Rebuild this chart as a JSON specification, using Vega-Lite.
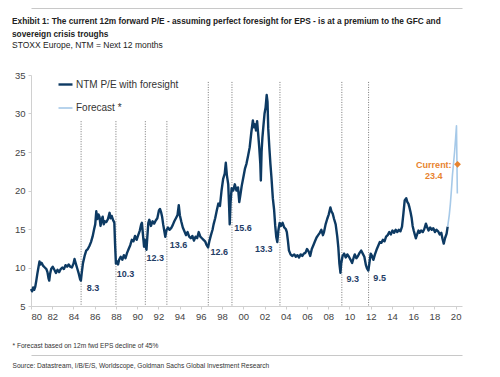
{
  "$schema": "https://vega.github.io/schema/vega-lite/v6.json",
  "width": 431,
  "height": 231,
  "autosize": "none",
  "padding": {"left": 31, "top": 75, "right": 38, "bottom": 71},
  "background": "white",
  "config": {"view": {"stroke": null}, "font": "Liberation Sans", "axis": {"labelOverlap": false}},
  "title": {
    "text": ["Exhibit 1: The current 12m forward P/E - assuming perfect foresight for EPS - is at a premium to the GFC and", "sovereign crisis troughs"],
    "subtitle": "STOXX Europe, NTM = Next 12 months",
    "anchor": "start",
    "frame": "group",
    "dx": -19,
    "offset": -41.5,
    "font": "Liberation Sans",
    "fontSize": 8.3,
    "fontWeight": "bold",
    "color": "#222222",
    "lineHeight": 13,
    "subtitleFont": "Liberation Sans",
    "subtitleFontSize": 8.5,
    "subtitleColor": "#222222",
    "subtitlePadding": 2.5,
    "subtitleLineHeight": 12
  },
  "resolve": {"axis": {"x": "independent", "y": "independent"}},
  "datasets": {
    "pe": [
      {"t":1980.0,"v":7.2,"s":"NTM P/E with foresight"},{"t":1980.1,"v":6.9,"s":"NTM P/E with foresight"},{"t":1980.2,"v":7.4,"s":"NTM P/E with foresight"},{"t":1980.3,"v":7.1,"s":"NTM P/E with foresight"},{"t":1980.4,"v":7.5,"s":"NTM P/E with foresight"},{"t":1980.5,"v":8.3,"s":"NTM P/E with foresight"},{"t":1980.6,"v":9.2,"s":"NTM P/E with foresight"},{"t":1980.7,"v":10.0,"s":"NTM P/E with foresight"},{"t":1980.8,"v":10.8,"s":"NTM P/E with foresight"},{"t":1980.9,"v":10.4,"s":"NTM P/E with foresight"},
      {"t":1981.0,"v":10.6,"s":"NTM P/E with foresight"},{"t":1981.15,"v":10.2,"s":"NTM P/E with foresight"},{"t":1981.3,"v":10.0,"s":"NTM P/E with foresight"},{"t":1981.45,"v":9.8,"s":"NTM P/E with foresight"},{"t":1981.55,"v":9.4,"s":"NTM P/E with foresight"},{"t":1981.65,"v":8.6,"s":"NTM P/E with foresight"},{"t":1981.72,"v":8.3,"s":"NTM P/E with foresight"},{"t":1981.8,"v":9.2,"s":"NTM P/E with foresight"},{"t":1981.9,"v":9.8,"s":"NTM P/E with foresight"},
      {"t":1982.05,"v":10.1,"s":"NTM P/E with foresight"},{"t":1982.2,"v":9.7,"s":"NTM P/E with foresight"},{"t":1982.35,"v":9.3,"s":"NTM P/E with foresight"},{"t":1982.5,"v":9.7,"s":"NTM P/E with foresight"},{"t":1982.65,"v":9.4,"s":"NTM P/E with foresight"},{"t":1982.8,"v":9.8,"s":"NTM P/E with foresight"},{"t":1982.95,"v":10.0,"s":"NTM P/E with foresight"},
      {"t":1983.1,"v":9.8,"s":"NTM P/E with foresight"},{"t":1983.25,"v":10.3,"s":"NTM P/E with foresight"},{"t":1983.4,"v":10.1,"s":"NTM P/E with foresight"},{"t":1983.55,"v":10.4,"s":"NTM P/E with foresight"},{"t":1983.7,"v":10.1,"s":"NTM P/E with foresight"},{"t":1983.85,"v":10.0,"s":"NTM P/E with foresight"},
      {"t":1984.0,"v":10.5,"s":"NTM P/E with foresight"},{"t":1984.1,"v":11.1,"s":"NTM P/E with foresight"},{"t":1984.2,"v":10.6,"s":"NTM P/E with foresight"},{"t":1984.35,"v":9.9,"s":"NTM P/E with foresight"},{"t":1984.5,"v":9.2,"s":"NTM P/E with foresight"},{"t":1984.62,"v":8.5,"s":"NTM P/E with foresight"},{"t":1984.7,"v":8.3,"s":"NTM P/E with foresight"},{"t":1984.78,"v":9.3,"s":"NTM P/E with foresight"},{"t":1984.9,"v":10.6,"s":"NTM P/E with foresight"},
      {"t":1985.05,"v":11.5,"s":"NTM P/E with foresight"},{"t":1985.2,"v":12.2,"s":"NTM P/E with foresight"},{"t":1985.35,"v":12.4,"s":"NTM P/E with foresight"},{"t":1985.5,"v":12.8,"s":"NTM P/E with foresight"},{"t":1985.65,"v":13.3,"s":"NTM P/E with foresight"},{"t":1985.8,"v":14.0,"s":"NTM P/E with foresight"},{"t":1985.95,"v":15.0,"s":"NTM P/E with foresight"},
      {"t":1986.05,"v":15.6,"s":"NTM P/E with foresight"},{"t":1986.15,"v":17.3,"s":"NTM P/E with foresight"},{"t":1986.25,"v":16.3,"s":"NTM P/E with foresight"},{"t":1986.35,"v":16.9,"s":"NTM P/E with foresight"},{"t":1986.45,"v":16.6,"s":"NTM P/E with foresight"},{"t":1986.55,"v":15.4,"s":"NTM P/E with foresight"},{"t":1986.65,"v":16.2,"s":"NTM P/E with foresight"},{"t":1986.75,"v":16.6,"s":"NTM P/E with foresight"},{"t":1986.85,"v":15.6,"s":"NTM P/E with foresight"},{"t":1986.95,"v":16.0,"s":"NTM P/E with foresight"},
      {"t":1987.1,"v":15.9,"s":"NTM P/E with foresight"},{"t":1987.25,"v":16.3,"s":"NTM P/E with foresight"},{"t":1987.4,"v":17.1,"s":"NTM P/E with foresight"},{"t":1987.5,"v":16.4,"s":"NTM P/E with foresight"},{"t":1987.6,"v":16.7,"s":"NTM P/E with foresight"},{"t":1987.75,"v":16.1,"s":"NTM P/E with foresight"},{"t":1987.85,"v":15.8,"s":"NTM P/E with foresight"},{"t":1987.92,"v":13.0,"s":"NTM P/E with foresight"},
      {"t":1988.0,"v":10.5,"s":"NTM P/E with foresight"},{"t":1988.1,"v":10.8,"s":"NTM P/E with foresight"},{"t":1988.2,"v":10.4,"s":"NTM P/E with foresight"},{"t":1988.3,"v":11.0,"s":"NTM P/E with foresight"},{"t":1988.45,"v":11.4,"s":"NTM P/E with foresight"},{"t":1988.6,"v":11.0,"s":"NTM P/E with foresight"},{"t":1988.75,"v":11.6,"s":"NTM P/E with foresight"},{"t":1988.9,"v":11.2,"s":"NTM P/E with foresight"},
      {"t":1989.05,"v":11.9,"s":"NTM P/E with foresight"},{"t":1989.2,"v":12.4,"s":"NTM P/E with foresight"},{"t":1989.35,"v":12.9,"s":"NTM P/E with foresight"},{"t":1989.5,"v":13.6,"s":"NTM P/E with foresight"},{"t":1989.65,"v":13.4,"s":"NTM P/E with foresight"},{"t":1989.8,"v":14.1,"s":"NTM P/E with foresight"},{"t":1989.95,"v":13.6,"s":"NTM P/E with foresight"},
      {"t":1990.1,"v":14.2,"s":"NTM P/E with foresight"},{"t":1990.25,"v":14.8,"s":"NTM P/E with foresight"},{"t":1990.38,"v":15.6,"s":"NTM P/E with foresight"},{"t":1990.45,"v":15.8,"s":"NTM P/E with foresight"},{"t":1990.55,"v":14.2,"s":"NTM P/E with foresight"},{"t":1990.65,"v":12.7,"s":"NTM P/E with foresight"},{"t":1990.72,"v":13.6,"s":"NTM P/E with foresight"},{"t":1990.8,"v":12.8,"s":"NTM P/E with foresight"},{"t":1990.88,"v":12.3,"s":"NTM P/E with foresight"},{"t":1990.95,"v":13.8,"s":"NTM P/E with foresight"},
      {"t":1991.05,"v":15.8,"s":"NTM P/E with foresight"},{"t":1991.15,"v":16.2,"s":"NTM P/E with foresight"},{"t":1991.3,"v":15.4,"s":"NTM P/E with foresight"},{"t":1991.45,"v":16.0,"s":"NTM P/E with foresight"},{"t":1991.6,"v":15.7,"s":"NTM P/E with foresight"},{"t":1991.75,"v":16.1,"s":"NTM P/E with foresight"},{"t":1991.9,"v":16.4,"s":"NTM P/E with foresight"},
      {"t":1992.05,"v":17.4,"s":"NTM P/E with foresight"},{"t":1992.15,"v":17.6,"s":"NTM P/E with foresight"},{"t":1992.25,"v":17.2,"s":"NTM P/E with foresight"},{"t":1992.35,"v":16.6,"s":"NTM P/E with foresight"},{"t":1992.45,"v":15.6,"s":"NTM P/E with foresight"},{"t":1992.55,"v":14.8,"s":"NTM P/E with foresight"},{"t":1992.65,"v":14.0,"s":"NTM P/E with foresight"},{"t":1992.75,"v":14.8,"s":"NTM P/E with foresight"},{"t":1992.9,"v":15.2,"s":"NTM P/E with foresight"},
      {"t":1993.05,"v":14.9,"s":"NTM P/E with foresight"},{"t":1993.2,"v":15.1,"s":"NTM P/E with foresight"},{"t":1993.35,"v":15.5,"s":"NTM P/E with foresight"},{"t":1993.5,"v":16.0,"s":"NTM P/E with foresight"},{"t":1993.65,"v":16.4,"s":"NTM P/E with foresight"},{"t":1993.8,"v":16.8,"s":"NTM P/E with foresight"},{"t":1993.92,"v":18.1,"s":"NTM P/E with foresight"},
      {"t":1994.02,"v":16.8,"s":"NTM P/E with foresight"},{"t":1994.15,"v":16.0,"s":"NTM P/E with foresight"},{"t":1994.3,"v":15.2,"s":"NTM P/E with foresight"},{"t":1994.45,"v":14.7,"s":"NTM P/E with foresight"},{"t":1994.6,"v":14.2,"s":"NTM P/E with foresight"},{"t":1994.75,"v":14.6,"s":"NTM P/E with foresight"},{"t":1994.9,"v":14.0,"s":"NTM P/E with foresight"},
      {"t":1995.05,"v":13.8,"s":"NTM P/E with foresight"},{"t":1995.2,"v":14.1,"s":"NTM P/E with foresight"},{"t":1995.35,"v":13.5,"s":"NTM P/E with foresight"},{"t":1995.5,"v":14.0,"s":"NTM P/E with foresight"},{"t":1995.65,"v":13.8,"s":"NTM P/E with foresight"},{"t":1995.8,"v":14.6,"s":"NTM P/E with foresight"},{"t":1995.95,"v":14.0,"s":"NTM P/E with foresight"},
      {"t":1996.1,"v":13.8,"s":"NTM P/E with foresight"},{"t":1996.25,"v":13.6,"s":"NTM P/E with foresight"},{"t":1996.4,"v":13.4,"s":"NTM P/E with foresight"},{"t":1996.55,"v":12.9,"s":"NTM P/E with foresight"},{"t":1996.68,"v":12.6,"s":"NTM P/E with foresight"},{"t":1996.8,"v":13.4,"s":"NTM P/E with foresight"},{"t":1996.95,"v":14.2,"s":"NTM P/E with foresight"},
      {"t":1997.1,"v":14.9,"s":"NTM P/E with foresight"},{"t":1997.2,"v":15.6,"s":"NTM P/E with foresight"},{"t":1997.35,"v":16.4,"s":"NTM P/E with foresight"},{"t":1997.5,"v":17.4,"s":"NTM P/E with foresight"},{"t":1997.65,"v":18.3,"s":"NTM P/E with foresight"},{"t":1997.8,"v":18.0,"s":"NTM P/E with foresight"},{"t":1997.95,"v":20.0,"s":"NTM P/E with foresight"},
      {"t":1998.1,"v":21.5,"s":"NTM P/E with foresight"},{"t":1998.25,"v":22.2,"s":"NTM P/E with foresight"},{"t":1998.35,"v":23.6,"s":"NTM P/E with foresight"},{"t":1998.45,"v":22.0,"s":"NTM P/E with foresight"},{"t":1998.58,"v":20.8,"s":"NTM P/E with foresight"},{"t":1998.66,"v":18.0,"s":"NTM P/E with foresight"},{"t":1998.72,"v":15.6,"s":"NTM P/E with foresight"},{"t":1998.8,"v":18.5,"s":"NTM P/E with foresight"},{"t":1998.9,"v":20.3,"s":"NTM P/E with foresight"},
      {"t":1999.05,"v":20.0,"s":"NTM P/E with foresight"},{"t":1999.2,"v":20.8,"s":"NTM P/E with foresight"},{"t":1999.35,"v":20.0,"s":"NTM P/E with foresight"},{"t":1999.5,"v":20.4,"s":"NTM P/E with foresight"},{"t":1999.62,"v":18.5,"s":"NTM P/E with foresight"},{"t":1999.7,"v":19.2,"s":"NTM P/E with foresight"},{"t":1999.85,"v":20.6,"s":"NTM P/E with foresight"},
      {"t":2000.0,"v":21.7,"s":"NTM P/E with foresight"},{"t":2000.15,"v":22.8,"s":"NTM P/E with foresight"},{"t":2000.3,"v":23.5,"s":"NTM P/E with foresight"},{"t":2000.45,"v":24.5,"s":"NTM P/E with foresight"},{"t":2000.6,"v":25.6,"s":"NTM P/E with foresight"},{"t":2000.75,"v":27.5,"s":"NTM P/E with foresight"},{"t":2000.9,"v":29.1,"s":"NTM P/E with foresight"},
      {"t":2001.0,"v":28.2,"s":"NTM P/E with foresight"},{"t":2001.1,"v":28.6,"s":"NTM P/E with foresight"},{"t":2001.2,"v":27.8,"s":"NTM P/E with foresight"},{"t":2001.3,"v":29.0,"s":"NTM P/E with foresight"},{"t":2001.42,"v":27.0,"s":"NTM P/E with foresight"},{"t":2001.5,"v":25.6,"s":"NTM P/E with foresight"},{"t":2001.6,"v":23.5,"s":"NTM P/E with foresight"},{"t":2001.65,"v":21.3,"s":"NTM P/E with foresight"},{"t":2001.72,"v":25.0,"s":"NTM P/E with foresight"},{"t":2001.8,"v":26.9,"s":"NTM P/E with foresight"},{"t":2001.9,"v":28.5,"s":"NTM P/E with foresight"},
      {"t":2002.0,"v":30.0,"s":"NTM P/E with foresight"},{"t":2002.1,"v":30.8,"s":"NTM P/E with foresight"},{"t":2002.2,"v":32.4,"s":"NTM P/E with foresight"},{"t":2002.28,"v":31.5,"s":"NTM P/E with foresight"},{"t":2002.35,"v":28.0,"s":"NTM P/E with foresight"},{"t":2002.45,"v":25.6,"s":"NTM P/E with foresight"},{"t":2002.55,"v":23.5,"s":"NTM P/E with foresight"},{"t":2002.65,"v":21.7,"s":"NTM P/E with foresight"},{"t":2002.78,"v":19.0,"s":"NTM P/E with foresight"},{"t":2002.9,"v":17.5,"s":"NTM P/E with foresight"},
      {"t":2003.0,"v":15.5,"s":"NTM P/E with foresight"},{"t":2003.1,"v":14.0,"s":"NTM P/E with foresight"},{"t":2003.2,"v":13.3,"s":"NTM P/E with foresight"},{"t":2003.3,"v":14.8,"s":"NTM P/E with foresight"},{"t":2003.42,"v":15.8,"s":"NTM P/E with foresight"},{"t":2003.55,"v":15.4,"s":"NTM P/E with foresight"},{"t":2003.7,"v":15.8,"s":"NTM P/E with foresight"},{"t":2003.85,"v":15.2,"s":"NTM P/E with foresight"},
      {"t":2004.0,"v":15.0,"s":"NTM P/E with foresight"},{"t":2004.1,"v":14.6,"s":"NTM P/E with foresight"},{"t":2004.2,"v":13.5,"s":"NTM P/E with foresight"},{"t":2004.3,"v":12.2,"s":"NTM P/E with foresight"},{"t":2004.45,"v":11.7,"s":"NTM P/E with foresight"},{"t":2004.6,"v":11.5,"s":"NTM P/E with foresight"},{"t":2004.8,"v":11.7,"s":"NTM P/E with foresight"},{"t":2004.95,"v":11.4,"s":"NTM P/E with foresight"},
      {"t":2005.1,"v":11.6,"s":"NTM P/E with foresight"},{"t":2005.25,"v":11.3,"s":"NTM P/E with foresight"},{"t":2005.4,"v":11.7,"s":"NTM P/E with foresight"},{"t":2005.55,"v":11.5,"s":"NTM P/E with foresight"},{"t":2005.7,"v":11.8,"s":"NTM P/E with foresight"},{"t":2005.85,"v":11.9,"s":"NTM P/E with foresight"},
      {"t":2006.0,"v":12.4,"s":"NTM P/E with foresight"},{"t":2006.15,"v":12.1,"s":"NTM P/E with foresight"},{"t":2006.3,"v":11.5,"s":"NTM P/E with foresight"},{"t":2006.45,"v":12.4,"s":"NTM P/E with foresight"},{"t":2006.6,"v":12.9,"s":"NTM P/E with foresight"},{"t":2006.75,"v":13.4,"s":"NTM P/E with foresight"},{"t":2006.9,"v":13.9,"s":"NTM P/E with foresight"},
      {"t":2007.05,"v":14.2,"s":"NTM P/E with foresight"},{"t":2007.2,"v":14.5,"s":"NTM P/E with foresight"},{"t":2007.35,"v":14.9,"s":"NTM P/E with foresight"},{"t":2007.5,"v":14.2,"s":"NTM P/E with foresight"},{"t":2007.6,"v":14.6,"s":"NTM P/E with foresight"},{"t":2007.75,"v":15.6,"s":"NTM P/E with foresight"},{"t":2007.9,"v":16.3,"s":"NTM P/E with foresight"},
      {"t":2008.05,"v":16.9,"s":"NTM P/E with foresight"},{"t":2008.2,"v":17.8,"s":"NTM P/E with foresight"},{"t":2008.3,"v":17.3,"s":"NTM P/E with foresight"},{"t":2008.42,"v":17.0,"s":"NTM P/E with foresight"},{"t":2008.55,"v":16.3,"s":"NTM P/E with foresight"},{"t":2008.7,"v":15.6,"s":"NTM P/E with foresight"},{"t":2008.85,"v":14.0,"s":"NTM P/E with foresight"},{"t":2008.95,"v":12.6,"s":"NTM P/E with foresight"},
      {"t":2009.05,"v":10.5,"s":"NTM P/E with foresight"},{"t":2009.15,"v":9.3,"s":"NTM P/E with foresight"},{"t":2009.22,"v":10.5,"s":"NTM P/E with foresight"},{"t":2009.35,"v":11.5,"s":"NTM P/E with foresight"},{"t":2009.5,"v":11.8,"s":"NTM P/E with foresight"},{"t":2009.65,"v":11.3,"s":"NTM P/E with foresight"},{"t":2009.8,"v":11.7,"s":"NTM P/E with foresight"},{"t":2009.95,"v":11.4,"s":"NTM P/E with foresight"},
      {"t":2010.1,"v":11.0,"s":"NTM P/E with foresight"},{"t":2010.25,"v":10.6,"s":"NTM P/E with foresight"},{"t":2010.4,"v":11.3,"s":"NTM P/E with foresight"},{"t":2010.5,"v":11.7,"s":"NTM P/E with foresight"},{"t":2010.65,"v":11.2,"s":"NTM P/E with foresight"},{"t":2010.8,"v":11.5,"s":"NTM P/E with foresight"},{"t":2010.95,"v":11.9,"s":"NTM P/E with foresight"},
      {"t":2011.1,"v":12.2,"s":"NTM P/E with foresight"},{"t":2011.25,"v":11.8,"s":"NTM P/E with foresight"},{"t":2011.4,"v":11.4,"s":"NTM P/E with foresight"},{"t":2011.55,"v":10.3,"s":"NTM P/E with foresight"},{"t":2011.65,"v":9.9,"s":"NTM P/E with foresight"},{"t":2011.78,"v":9.6,"s":"NTM P/E with foresight"},{"t":2011.88,"v":10.6,"s":"NTM P/E with foresight"},
      {"t":2012.0,"v":11.8,"s":"NTM P/E with foresight"},{"t":2012.12,"v":11.5,"s":"NTM P/E with foresight"},{"t":2012.25,"v":11.0,"s":"NTM P/E with foresight"},{"t":2012.4,"v":11.7,"s":"NTM P/E with foresight"},{"t":2012.55,"v":12.3,"s":"NTM P/E with foresight"},{"t":2012.7,"v":12.8,"s":"NTM P/E with foresight"},{"t":2012.85,"v":13.3,"s":"NTM P/E with foresight"},
      {"t":2013.0,"v":13.2,"s":"NTM P/E with foresight"},{"t":2013.15,"v":13.6,"s":"NTM P/E with foresight"},{"t":2013.3,"v":13.4,"s":"NTM P/E with foresight"},{"t":2013.45,"v":14.0,"s":"NTM P/E with foresight"},{"t":2013.6,"v":14.2,"s":"NTM P/E with foresight"},{"t":2013.75,"v":14.6,"s":"NTM P/E with foresight"},{"t":2013.9,"v":14.3,"s":"NTM P/E with foresight"},
      {"t":2014.05,"v":14.8,"s":"NTM P/E with foresight"},{"t":2014.2,"v":14.5,"s":"NTM P/E with foresight"},{"t":2014.35,"v":14.9,"s":"NTM P/E with foresight"},{"t":2014.5,"v":14.6,"s":"NTM P/E with foresight"},{"t":2014.65,"v":14.9,"s":"NTM P/E with foresight"},{"t":2014.8,"v":14.7,"s":"NTM P/E with foresight"},{"t":2014.95,"v":15.3,"s":"NTM P/E with foresight"},
      {"t":2015.08,"v":17.0,"s":"NTM P/E with foresight"},{"t":2015.2,"v":18.7,"s":"NTM P/E with foresight"},{"t":2015.35,"v":19.0,"s":"NTM P/E with foresight"},{"t":2015.45,"v":18.5,"s":"NTM P/E with foresight"},{"t":2015.55,"v":18.3,"s":"NTM P/E with foresight"},{"t":2015.65,"v":17.8,"s":"NTM P/E with foresight"},{"t":2015.75,"v":17.2,"s":"NTM P/E with foresight"},{"t":2015.85,"v":16.5,"s":"NTM P/E with foresight"},{"t":2015.95,"v":15.4,"s":"NTM P/E with foresight"},
      {"t":2016.05,"v":14.8,"s":"NTM P/E with foresight"},{"t":2016.15,"v":14.3,"s":"NTM P/E with foresight"},{"t":2016.25,"v":13.8,"s":"NTM P/E with foresight"},{"t":2016.35,"v":14.2,"s":"NTM P/E with foresight"},{"t":2016.5,"v":14.8,"s":"NTM P/E with foresight"},{"t":2016.6,"v":14.5,"s":"NTM P/E with foresight"},{"t":2016.75,"v":14.8,"s":"NTM P/E with foresight"},{"t":2016.9,"v":14.6,"s":"NTM P/E with foresight"},
      {"t":2017.05,"v":15.0,"s":"NTM P/E with foresight"},{"t":2017.2,"v":15.7,"s":"NTM P/E with foresight"},{"t":2017.3,"v":15.3,"s":"NTM P/E with foresight"},{"t":2017.45,"v":14.8,"s":"NTM P/E with foresight"},{"t":2017.6,"v":15.2,"s":"NTM P/E with foresight"},{"t":2017.75,"v":14.9,"s":"NTM P/E with foresight"},{"t":2017.9,"v":15.1,"s":"NTM P/E with foresight"},
      {"t":2018.05,"v":14.6,"s":"NTM P/E with foresight"},{"t":2018.2,"v":14.9,"s":"NTM P/E with foresight"},{"t":2018.35,"v":14.7,"s":"NTM P/E with foresight"},{"t":2018.5,"v":14.3,"s":"NTM P/E with foresight"},{"t":2018.65,"v":14.5,"s":"NTM P/E with foresight"},{"t":2018.75,"v":13.8,"s":"NTM P/E with foresight"},{"t":2018.88,"v":13.1,"s":"NTM P/E with foresight"},
      {"t":2019.0,"v":13.8,"s":"NTM P/E with foresight"},{"t":2019.15,"v":14.4,"s":"NTM P/E with foresight"},{"t":2019.25,"v":15.3,"s":"NTM P/E with foresight"},
      {"t":2019.25,"v":15.3,"s":"Forecast *"},{"t":2019.4,"v":16.8,"s":"Forecast *"},{"t":2019.5,"v":18.2,"s":"Forecast *"},{"t":2019.6,"v":20.0,"s":"Forecast *"},{"t":2019.7,"v":22.0,"s":"Forecast *"},{"t":2019.8,"v":23.5,"s":"Forecast *"},{"t":2019.9,"v":25.0,"s":"Forecast *"},{"t":2020.0,"v":26.8,"s":"Forecast *"},{"t":2020.08,"v":28.4,"s":"Forecast *"},{"t":2020.12,"v":24.0,"s":"Forecast *"},{"t":2020.16,"v":19.6,"s":"Forecast *"}
    ],
    "troughs": [
      {"t":1984.72,"top":29.0},{"t":1988.0,"top":29.0},{"t":1990.77,"top":29.0},{"t":1992.8,"top":29.0},
      {"t":1996.7,"top":34.1},{"t":1998.93,"top":34.1},{"t":2003.45,"top":34.1},{"t":2009.28,"top":34.1},{"t":2011.8,"top":34.1}
    ],
    "labels": [
      {"t":1985.84,"v":7.34,"label":"8.3"},{"t":1988.9,"v":9.16,"label":"10.3"},{"t":1991.7,"v":11.23,"label":"12.3"},
      {"t":1993.9,"v":12.92,"label":"13.6"},{"t":1997.73,"v":12.0,"label":"12.6"},{"t":1999.96,"v":15.13,"label":"15.6"},
      {"t":2001.92,"v":12.4,"label":"13.3"},{"t":2010.3,"v":8.5,"label":"9.3"},{"t":2012.84,"v":8.64,"label":"9.5"}
    ],
    "current": [{"t":2020.18,"v":23.4,"lt":2017.95,"lv":23.27,"label":"Current:\n23.4"}]
  },
  "layer": [
    {
      "data": {"name": "troughs"},
      "mark": {"type": "rule", "color": "#666666", "strokeWidth": 0.9, "strokeDash": [1, 1.5]},
      "encoding": {
        "x": {"field": "t", "type": "quantitative", "axis": null},
        "y": {"field": "top", "type": "quantitative", "axis": null},
        "y2": {"datum": 5}
      }
    },
    {
      "data": {"name": "pe"},
      "mark": {"type": "line", "strokeJoin": "round", "interpolate": "linear"},
      "encoding": {
        "x": {
          "field": "t", "type": "quantitative",
          "scale": {"domain": [1980, 2020.6], "nice": false, "zero": false},
          "axis": {
            "values": [1980,1982,1984,1986,1988,1990,1992,1994,1996,1998,2000,2002,2004,2006,2008,2010,2012,2014,2016,2018,2020],
            "labelExpr": "slice(format(datum.value, 'd'), 2)",
            "labelOverlap": false,
            "grid": false,
            "domainColor": "#d0d0d0",
            "tickColor": "#d0d0d0",
            "tickSize": 3,
            "labelFontSize": 9.5,
            "labelColor": "#444444",
            "labelPadding": 2,
            "title": ["* Forecast based on 12m fwd EPS decline of 45%", "Source: Datastream, I/B/E/S, Worldscope, Goldman Sachs Global Investment Research"],
            "titleX": -19,
            "titleY": 39.7,
            "titleAlign": "left",
            "titleBaseline": "middle",
            "titleLineHeight": 19.5,
            "titleFont": "Liberation Sans",
            "titleFontSize": 6.6,
            "titleFontWeight": "normal",
            "titleColor": "#333333"
          }
        },
        "y": {
          "field": "v", "type": "quantitative",
          "scale": {"domain": [5, 35], "nice": false, "zero": false},
          "axis": {
            "values": [5,10,15,20,25,30,35],
            "labelOverlap": false,
            "grid": false,
            "domainColor": "#d0d0d0",
            "tickColor": "#d0d0d0",
            "tickSize": 3,
            "labelFontSize": 9.5,
            "labelColor": "#444444",
            "labelPadding": 3,
            "title": null
          }
        },
        "color": {
          "field": "s", "type": "nominal",
          "scale": {"domain": ["NTM P/E with foresight", "Forecast *"], "range": ["#0d3a63", "#a6c9e8"]},
          "legend": {
            "title": null,
            "orient": "none",
            "legendX": 26,
            "legendY": 1,
            "symbolType": "stroke",
            "symbolSize": 196,
            "labelFontSize": 10,
            "labelColor": "#333333",
            "labelOffset": 2,
            "rowPadding": 10
          }
        },
        "strokeWidth": {
          "field": "s", "type": "nominal",
          "scale": {"domain": ["NTM P/E with foresight", "Forecast *"], "range": [2.4, 1.6]},
          "legend": {
            "title": null,
            "orient": "none",
            "legendX": 26,
            "legendY": 1,
            "symbolType": "stroke",
            "symbolSize": 196,
            "labelFontSize": 10,
            "labelColor": "#333333",
            "labelOffset": 2,
            "rowPadding": 10
          }
        }
      }
    },
    {
      "data": {"name": "labels"},
      "mark": {"type": "text", "fontSize": 9, "fontWeight": "bold", "color": "#1f3d66", "align": "center", "baseline": "middle"},
      "encoding": {
        "x": {"field": "t", "type": "quantitative", "axis": null},
        "y": {"field": "v", "type": "quantitative", "axis": null},
        "text": {"field": "label", "type": "nominal"}
      }
    },
    {
      "data": {"name": "current"},
      "mark": {"type": "text", "fontSize": 9, "fontWeight": "bold", "color": "#e8832f", "align": "center", "baseline": "middle", "lineBreak": "\n", "lineHeight": 10.7},
      "encoding": {
        "x": {"field": "lt", "type": "quantitative", "axis": null},
        "y": {"field": "lv", "type": "quantitative", "axis": null},
        "text": {"field": "label", "type": "nominal"}
      }
    },
    {
      "data": {"name": "current"},
      "mark": {"type": "point", "shape": "diamond", "filled": true, "color": "#e8832f", "size": 45, "opacity": 1},
      "encoding": {
        "x": {
          "field": "t", "type": "quantitative",
          "axis": {"orient": "top", "offset": 67, "labels": false, "ticks": false, "grid": false, "title": null, "domainColor": "#c8c8c8", "domainWidth": 1.2}
        },
        "y": {"field": "v", "type": "quantitative", "axis": null}
      }
    },
    {
      "data": {"name": "current"},
      "mark": {"type": "point", "opacity": 0},
      "encoding": {
        "x": {
          "field": "t", "type": "quantitative",
          "axis": {"orient": "bottom", "offset": 49, "labels": false, "ticks": false, "grid": false, "title": null, "domainColor": "#c8c8c8", "domainWidth": 1.2}
        },
        "y": {"field": "v", "type": "quantitative", "axis": null}
      }
    }
  ]
}
